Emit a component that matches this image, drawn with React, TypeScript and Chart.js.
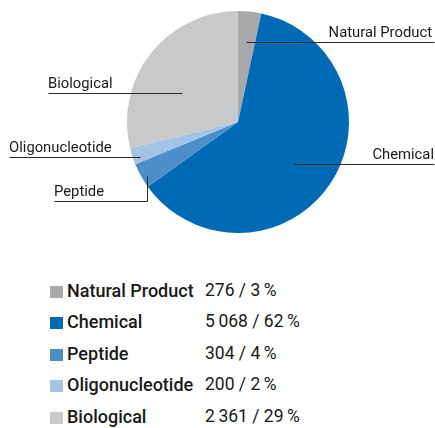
import React, { useEffect, useRef } from "react";
import { Chart, registerables } from "chart.js";

Chart.register(...registerables);

const categories = ["Natural Product", "Chemical", "Peptide", "Oligonucleotide", "Biological"];
const counts = [276, 5068, 304, 200, 2361];
const countLabels = ["276", "5\u2009068", "304", "200", "2\u2009361"];
const percentLabels = ["3", "62", "4", "2", "29"];
const colors = ["#a7a8aa", "#006ab4", "#4b8ec9", "#a5c3e5", "#c8c9cb"];

// Leader line layout, in units of the pie radius relative to its centre.
type Leader = { idx: number; pts: [number, number][]; textX: number; align: CanvasTextAlign; textDy: number };
const leaders: Leader[] = [
  { idx: 0, pts: [[0.072, -0.72], [1.77, -0.72]], textX: 432, align: "right", textDy: -5 },
  { idx: 1, pts: [[0.505, 0.378], [1.77, 0.378]], textX: 434, align: "right", textDy: -5 },
  { idx: 4, pts: [[-0.505, -0.261], [-1.712, -0.261]], textX: 48, align: "left", textDy: -5 },
  { idx: 3, pts: [[-0.883, 0.315], [-2.06, 0.315]], textX: 9, align: "left", textDy: -5 },
  { idx: 2, pts: [[-0.82, 0.486], [-0.82, 0.712], [-1.66, 0.712]], textX: 54, align: "left", textDy: -5 },
];

const FONT = "Roboto, 'DejaVu Sans', sans-serif";

const leaderPlugin = {
  id: "leaders",
  afterDraw(chart: any) {
    const arc = chart.getDatasetMeta(0).data[0];
    if (!arc) return;
    const cx = arc.x, cy = arc.y, R = arc.outerRadius;
    const ctx = chart.ctx as CanvasRenderingContext2D;
    ctx.save();
    ctx.strokeStyle = "#2a2a2a";
    ctx.lineWidth = 1;
    ctx.fillStyle = "#1a1a1a";
    ctx.font = `14.8px ${FONT}`;
    ctx.textBaseline = "alphabetic";
    for (const l of leaders) {
      ctx.beginPath();
      l.pts.forEach(([fx, fy], i) => {
        const x = Math.round(cx + fx * R) + 0.5;
        const y = Math.round(cy + fy * R) + 0.5;
        if (i === 0) ctx.moveTo(x, y);
        else ctx.lineTo(x, y);
      });
      ctx.stroke();
      const last = l.pts[l.pts.length - 1];
      const ly = Math.round(cy + last[1] * R);
      ctx.textAlign = l.align;
      ctx.fillText(categories[l.idx], l.textX, ly + l.textDy);
    }
    ctx.restore();
  },
};

export default function App() {
  const ref = useRef<HTMLCanvasElement>(null);
  useEffect(() => {
    if (!ref.current) return;
    const chart = new Chart(ref.current, {
      type: "pie",
      data: {
        labels: categories,
        datasets: [{ data: counts, backgroundColor: colors, borderWidth: 0 }],
      },
      options: {
        responsive: false,
        animation: false,
        layout: { padding: { top: 11, bottom: 7, left: 127, right: 86 } },
        plugins: { legend: { display: false }, tooltip: { enabled: false } },
      },
      plugins: [leaderPlugin],
    });
    return () => chart.destroy();
  }, []);

  const rowTop0 = 280;
  const rowStep = 31.4;
  return (
    <div style={{ position: "fixed", left: 0, top: 0, width: 435, height: 428, background: "#fff", overflow: "hidden" }}>
      <canvas ref={ref} width={435} height={240} style={{ display: "block", width: 435, height: 240 }} />
      {categories.map((c, i) => {
        const top = rowTop0 + i * rowStep;
        return (
          <div key={c} style={{ position: "absolute", left: 0, top, height: 21, width: 435, fontFamily: FONT, fontSize: 18, lineHeight: "21px", color: "#1a1a1a" }}>
            <div style={{ position: "absolute", left: 50, top: 6, width: 13, height: 12, background: colors[i] }} />
            <span style={{ position: "absolute", left: 67, top: 0, fontWeight: 500, whiteSpace: "nowrap" }}>{c}</span>
            <span style={{ position: "absolute", left: 205, top: 0, fontWeight: 400, fontSize: 17.5, whiteSpace: "nowrap" }}>
              {`${countLabels[i]} / ${percentLabels[i]}\u2009%`}
            </span>
          </div>
        );
      })}
    </div>
  );
}
